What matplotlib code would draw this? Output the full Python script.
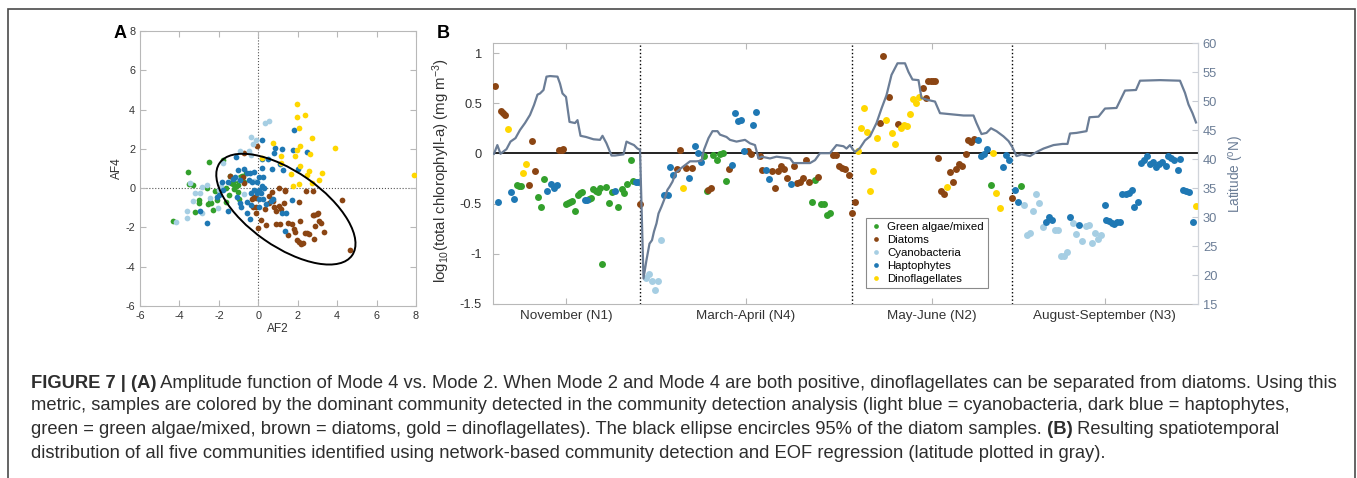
import matplotlib
matplotlib.use("Agg")
import matplotlib.pyplot as plt
from matplotlib.patches import Ellipse, Rectangle
from matplotlib.lines import Line2D

plt.rcParams['font.family'] = ['Liberation Sans', 'DejaVu Sans']
plt.rcParams['mathtext.fontset'] = 'custom'
plt.rcParams['mathtext.rm'] = 'Liberation Sans'
plt.rcParams['mathtext.it'] = 'Liberation Sans:italic'
plt.rcParams['axes.unicode_minus'] = False

# ---------------------------------------------------------------- data
community_names = ["Green algae/mixed", "Diatoms", "Cyanobacteria",
                   "Haptophytes", "Dinoflagellates"]
community_colors = ["#33a02c", "#8b4513", "#a6cee3", "#1f78b4", "#ffd700"]

# Panel A: amplitude functions (AF2, AF4) per community
af2_green = [-4.34, -3.56, -3.50, -3.30, -2.50, -3.00, -3.00, -3.20, -2.55, -2.40,
             -2.30, -2.10, -1.65, -1.80, -2.20, -1.65, -1.40, -1.30, -1.05, -1.25,
             -1.05, -1.45, -0.60, -1.00, -0.75, -0.95, -0.85, -1.12, -2.58, -1.50,
             -2.45, -1.20]
af4_green = [-1.66, 0.81, 0.20, 0.15, 1.33, -0.60, -0.75, -1.20, -0.80, -0.75,
             -1.10, -0.60, -0.70, 1.45, -0.15, 0.00, 0.25, 0.20, 0.15, -0.05,
             -0.20, 0.60, 0.75, -0.55, 0.30, 0.55, 0.60, 0.40, 0.00, -0.35,
             -0.72, 0.05]

af2_diatom = [-0.04, -0.74, -1.43, -0.79, -0.72, -0.21, -0.13, -0.25, -0.10, -0.11,
              0.14, -0.01, 0.33, 0.68, 0.55, 0.55, 0.77, 0.80, 0.89, 0.41,
              0.89, 1.11, 1.06, 1.16, 1.29, 1.06, 1.35, 1.38, 1.50, 1.53,
              1.73, 1.79, 1.85, 1.98, 2.08, 2.17, 2.27, 2.12, 2.09, 2.37,
              2.46, 2.43, 2.79, 2.85, 2.76, 2.85, 2.97, 3.05, 2.90, 3.10,
              3.20, 3.34, 4.24, 4.66, 2.55, -0.30]
af4_diatom = [2.17, 1.78, 0.64, 0.59, 0.25, -0.43, -0.49, -0.98, -0.98, -1.25,
              -1.64, -2.05, -1.08, -0.19, -0.40, -0.74, -0.65, -0.96, -1.16, -1.87,
              -1.82, -1.81, -0.92, -1.04, -0.75, 0.00, -0.08, -0.16, -1.77, -2.40,
              -1.82, -2.10, -2.25, -2.65, -2.76, -2.86, -2.79, -1.69, -0.69, -2.29,
              -2.27, -0.16, -0.16, -2.57, -1.37, -1.35, -1.30, -1.28, -1.94, -1.69,
              -1.79, -2.23, -0.60, -3.15, -2.33, -0.55]

af2_cyano = [0.36, 0.53, -0.35, -0.11, -0.28, -0.92, -0.45, -0.38, -1.77, -1.89,
             -1.97, -2.62, -2.87, -3.46, -3.23, -3.30, -2.95, -2.46, -2.04, -2.87,
             -3.64, -3.64, -4.17, -0.20, -1.15, -0.70]
af4_cyano = [3.32, 3.41, 2.59, 2.45, 2.27, 1.88, 1.89, 1.69, 1.27, 0.13,
             -0.09, 0.16, 0.08, 0.25, -0.26, -0.68, -0.26, -0.52, -1.03, -1.25,
             -1.15, -1.50, -1.74, 0.35, 0.50, -0.30]

af2_hapto = [1.83, 0.21, 0.84, 1.22, 1.75, 2.49, 0.79, -1.13, 0.19, 1.11,
             0.19, 0.72, 1.24, 2.00, -0.75, -1.05, -0.59, -0.42, -0.22, -1.17,
             0.04, 0.24, -1.27, -0.92, -1.52, -0.45, -0.31, -0.08, 0.19, 0.28,
             0.03, 0.16, -0.07, -0.37, -0.59, -0.39, 0.03, 0.25, 0.06, 0.40,
             -1.07, -0.95, -0.87, -0.55, -0.40, -1.53, -1.77, -2.08, -2.01, -1.84,
             -2.60, -2.95, 0.67, 1.20, 1.41, 1.38, 1.73, 0.77, 0.50, -0.20]
af4_hapto = [2.94, 2.44, 2.05, 2.00, 1.93, 1.83, 1.78, 1.60, 1.49, 1.23,
             1.03, 0.98, 0.94, 0.96, 0.98, 0.93, 0.76, 0.79, 0.80, 0.56,
             0.59, 0.55, 0.45, 0.42, 0.33, 0.42, 0.32, 0.32, 0.12, 0.00,
             -0.12, -0.26, -0.26, -0.26, -0.69, -0.86, -0.54, -0.56, -0.94, -0.79,
             -0.45, -0.74, -0.94, -1.26, -1.57, -1.16, -0.12, -0.43, -0.36, 0.30,
             -1.77, -1.16, -0.65, -1.25, -1.28, -2.17, -0.60, -0.57, 1.50, -0.10]

af2_dino = [1.95, 1.97, 2.36, 2.07, 2.72, 0.77, 2.14, 1.94, 3.87, 1.15,
            1.87, 2.60, 0.18, 1.17, 2.10, 2.57, 1.65, 2.46, 3.22, 3.10,
            2.74, 1.75, 2.07, 7.92]
af4_dino = [4.29, 3.61, 3.71, 3.06, 2.55, 2.30, 2.13, 1.95, 2.05, 1.66,
            1.66, 1.76, 1.51, 1.28, 1.15, 0.89, 0.71, 0.67, 0.79, 0.43,
            0.28, 0.09, 0.20, 0.66]

# 95% ellipse of the diatom samples
ellipse_center = (1.40, -1.07)
ellipse_axes = (8.2, 3.8)      # full width / height
ellipse_angle = -35.0

# Panel B: cruise sample index, log10 chlorophyll per community
section_names = ["November (N1)", "March-April (N4)", "May-June (N2)",
                 "August-September (N3)"]
section_edges = [0.0, 29.3, 71.7, 103.7, 141.0]

idx_green = [4.7, 5.1, 5.5, 9.0, 9.6, 10.2, 14.5, 14.9, 15.3, 15.8,
             16.4, 16.9, 17.4, 17.7, 19.1, 19.5, 19.9, 20.5, 20.9, 21.3,
             21.8, 22.5, 23.1, 23.7, 24.9, 25.7, 26.2, 26.8, 27.5, 28.0,
             42.2, 42.8, 44.0, 44.7, 45.3, 45.9, 46.5, 63.7, 64.3, 65.5,
             66.1, 66.7, 67.4, 99.5, 105.6]
chl_green = [-0.31, -0.32, -0.32, -0.43, -0.53, -0.25, -0.50, -0.49, -0.48, -0.47,
             -0.57, -0.41, -0.39, -0.38, -0.45, -0.44, -0.35, -0.37, -0.38, -0.34,
             -1.10, -0.33, -0.49, -0.38, -0.53, -0.35, -0.39, -0.30, -0.07, -0.27,
             -0.03, -0.37, -0.02, -0.07, -0.01, 0.00, -0.27, -0.48, -0.26, -0.50,
             -0.50, -0.61, -0.59, -0.31, -0.32]

idx_diatom = [0.33, 1.5, 1.9, 2.3, 7.1, 7.8, 8.4, 13.2, 13.7, 14.0,
              29.3, 36.7, 37.3, 38.5, 39.7, 42.9, 43.5, 47.1, 50.9, 51.5,
              53.3, 53.8, 55.8, 56.3, 57.0, 57.6, 58.2, 58.8, 60.1, 60.7,
              61.3, 61.9, 62.5, 63.1, 64.9, 68.0, 68.5, 69.2, 69.8, 70.4,
              71.1, 71.7, 72.4, 77.3, 77.9, 79.1, 80.9, 85.9, 86.5, 87.0,
              87.5, 87.9, 88.4, 88.9, 89.5, 90.1, 91.4, 92.0, 92.6, 93.2,
              93.8, 94.5, 95.0, 95.6, 96.2, 103.7]
chl_diatom = [0.67, 0.42, 0.40, 0.38, -0.31, 0.12, -0.18, 0.03, 0.03, 0.04,
              -0.50, -0.16, 0.03, -0.15, -0.15, -0.36, -0.34, -0.16, 0.02, -0.01,
              -0.03, -0.17, -0.18, -0.34, -0.18, -0.13, -0.16, -0.24, -0.13, -0.29,
              -0.28, -0.24, -0.07, -0.28, -0.23, -0.02, -0.02, -0.13, -0.15, -0.16,
              -0.21, -0.59, -0.48, 0.30, 0.97, 0.56, 0.29, 0.65, 0.55, 0.72,
              0.72, 0.72, 0.72, -0.05, -0.37, -0.40, -0.19, -0.28, -0.16, -0.11,
              -0.13, -0.01, 0.13, 0.11, 0.14, -0.44]

idx_cyano = [30.5, 31.1, 31.7, 32.3, 33.0, 33.6, 106.1, 106.8, 107.4, 107.9,
             108.6, 109.2, 109.9, 112.3, 112.9, 113.5, 114.1, 114.7, 116.0, 116.6,
             117.8, 118.5, 119.1, 119.7, 120.3, 120.9, 121.5]
chl_cyano = [-1.24, -1.20, -1.27, -1.36, -1.27, -0.86, -0.51, -0.81, -0.79, -0.57,
             -0.40, -0.49, -0.73, -0.76, -0.76, -1.02, -1.02, -0.98, -0.69, -0.80,
             -0.87, -0.72, -0.71, -0.89, -0.79, -0.85, -0.81]

idx_hapto = [1.0, 3.5, 4.1, 10.8, 11.5, 12.1, 12.8, 18.3, 18.7, 24.3,
             28.5, 28.9, 34.1, 34.9, 35.4, 36.0, 39.1, 40.3, 40.9, 41.5,
             47.7, 48.3, 49.0, 49.6, 50.2, 52.0, 52.6, 54.5, 55.1, 59.5,
             96.9, 97.5, 98.1, 98.7, 101.9, 102.5, 103.1, 104.3, 105.0, 110.5,
             111.1, 111.8, 115.3, 117.1, 122.3, 122.6, 123.2, 123.8, 124.1, 124.7,
             125.3, 125.8, 126.5, 127.1, 127.7, 128.2, 128.9, 129.5, 130.1, 130.7,
             131.3, 131.9, 132.5, 133.1, 133.7, 134.5, 135.0, 135.6, 136.2, 136.9,
             137.4, 138.0, 138.6, 139.2, 139.9]
chl_hapto = [-0.48, -0.38, -0.45, -0.37, -0.30, -0.34, -0.31, -0.46, -0.46, -0.37,
             -0.28, -0.28, -0.41, -0.41, -0.14, -0.21, -0.24, 0.07, 0.00, -0.09,
             -0.12, 0.40, 0.32, 0.33, 0.02, 0.28, 0.41, -0.17, -0.25, -0.30,
             0.13, -0.03, -0.01, 0.04, -0.14, -0.02, -0.07, -0.36, -0.48, -0.68,
             -0.63, -0.66, -0.63, -0.71, -0.51, -0.66, -0.67, -0.69, -0.70, -0.68,
             -0.68, -0.40, -0.40, -0.39, -0.36, -0.53, -0.48, -0.10, -0.07, -0.03,
             -0.11, -0.09, -0.14, -0.11, -0.09, -0.13, -0.03, -0.05, -0.07, -0.17,
             -0.06, -0.36, -0.37, -0.38, -0.68]

idx_dino = [2.9, 5.9, 6.5, 37.9, 72.9, 73.5, 74.2, 74.7, 75.4, 76.0,
            76.7, 78.5, 79.7, 80.4, 81.5, 82.1, 82.8, 83.4, 84.0, 84.6,
            85.2, 90.8, 100.0, 100.6, 101.3, 140.5]
chl_dino = [0.24, -0.20, -0.11, -0.34, 0.02, 0.25, 0.45, 0.21, -0.37, -0.18,
            0.15, 0.33, 0.20, 0.09, 0.25, 0.28, 0.27, 0.39, 0.54, 0.50,
            0.56, -0.33, 0.00, -0.39, -0.54, -0.52]

# Ship latitude along the cruise track
idx_lat = [0.2, 0.87, 1.5, 2.7, 3.5, 4.5, 5.4, 6.4, 7.4, 8.2,
           8.9, 9.4, 10.1, 10.7, 11.4, 12.9, 13.4, 13.9, 14.6, 15.3,
           16.4, 16.9, 17.5, 18.6, 20.1, 21.4, 21.9, 22.7, 23.7, 24.4,
           26.1, 26.7, 27.4, 28.2, 28.9, 29.4, 30.1, 30.7, 31.3, 31.8,
           32.2, 32.7, 33.1, 33.7, 34.2, 34.9, 35.3, 35.9, 36.6, 37.3,
           38.2, 39.4, 40.7, 41.7, 42.2, 43.1, 43.9, 44.9, 45.4, 46.7,
           47.4, 48.7, 50.4, 51.4, 52.4, 53.1, 53.7, 55.4, 56.7, 59.4,
           60.1, 63.4, 64.4, 65.4, 67.4, 68.7, 70.1, 70.7, 71.4, 72.1,
           72.4, 73.4, 74.4, 75.4, 76.7, 77.7, 78.7, 79.7, 80.9, 82.4,
           83.1, 83.9, 85.1, 85.7, 86.9, 88.4, 89.4, 91.7, 94.1, 96.1,
           96.7, 97.7, 98.7, 99.6, 100.7, 102.1, 103.1, 103.9, 104.7, 105.7,
           107.4, 108.7, 110.1, 112.1, 113.9, 114.9, 115.4, 116.7, 118.7, 119.3,
           121.1, 122.4, 124.7, 126.4, 128.6, 129.4, 133.4, 137.4, 138.4, 139.1,
           139.9, 140.6]
lat_deg = [40.9, 42.4, 40.9, 41.7, 43.0, 43.6, 45.0, 46.2, 47.6, 49.3,
           51.1, 51.3, 51.9, 54.2, 54.3, 54.2, 53.0, 51.3, 50.7, 46.4,
           46.2, 46.7, 44.0, 43.8, 43.4, 43.3, 44.0, 42.7, 40.6, 40.6,
           40.8, 43.0, 42.7, 42.4, 41.8, 41.6, 19.4, 22.6, 25.4, 26.0,
           27.5, 28.9, 30.6, 31.8, 32.9, 34.7, 35.2, 36.1, 37.7, 38.2,
           38.8, 39.6, 39.6, 39.7, 41.6, 43.6, 44.8, 44.8, 44.2, 43.8,
           43.3, 43.0, 43.3, 42.7, 42.4, 40.1, 40.4, 40.1, 40.4, 40.1,
           39.3, 39.3, 39.8, 41.0, 41.0, 42.4, 42.2, 41.8, 42.4, 41.5,
           41.2, 41.9, 43.2, 43.9, 46.2, 48.7, 51.0, 54.5, 56.5, 56.5,
           55.0, 53.7, 53.6, 50.5, 50.2, 49.9, 47.9, 47.7, 47.5, 47.5,
           46.2, 44.3, 44.5, 45.3, 44.8, 43.9, 43.1, 42.0, 40.5, 40.8,
           40.5, 41.2, 41.8, 42.4, 42.6, 42.6, 44.4, 44.5, 44.8, 47.2,
           47.3, 48.7, 48.8, 51.8, 51.9, 53.5, 53.6, 53.5, 51.4, 49.4,
           47.9, 46.3]

caption_lines = [
    [("FIGURE 7 | (A)", "bold"),
     (" Amplitude function of Mode 4 vs. Mode 2. When Mode 2 and Mode 4 are both "
      "positive, dinoflagellates can be separated from diatoms. Using this", "normal")],
    [("metric, samples are colored by the dominant community detected in the community "
      "detection analysis (light blue = cyanobacteria, dark blue = haptophytes,", "normal")],
    [("green = green algae/mixed, brown = diatoms, gold = dinoflagellates). The black "
      "ellipse encircles 95% of the diatom samples.", "normal"),
     (" (B)", "bold"),
     (" Resulting spatiotemporal", "normal")],
    [("distribution of all five communities identified using network-based community "
      "detection and EOF regression (latitude plotted in gray).", "normal")],
]

# ---------------------------------------------------------------- figure
W, H = 1357, 478
fig = plt.figure(figsize=(W / 100, H / 100), dpi=100)


def px_rect(x0, y0, x1, y1):
    return [x0 / W, 1 - y1 / H, (x1 - x0) / W, (y1 - y0) / H]


SPINE = "#b8b8b8"
TICKTXT = "#333333"
LATCOL = "#6b7d96"


def matlab_style(ax, labelsize):
    for s in ax.spines.values():
        s.set_color(SPINE)
        s.set_linewidth(0.8)
    ax.tick_params(direction="in", length=4, width=0.8, color=SPINE,
                   labelcolor=TICKTXT, labelsize=labelsize)


# outer figure frame
fig.add_artist(Rectangle((7.5 / W, -0.05), (1355 - 7.5) / W, 1.05 - 9 / H,
                         transform=fig.transFigure, fill=False,
                         edgecolor="#4a4a4a", linewidth=1.2))

# ---------------- panel A
axA = fig.add_axes(px_rect(140, 31, 416, 306))
matlab_style(axA, 7.8)
axA.tick_params(top=True, right=True, pad=3.5)
axA.set_xlim(-6, 8)
axA.set_ylim(-6, 8)
axA.set_xticks(range(-6, 9, 2))
axA.set_yticks(range(-6, 9, 2))
axA.axhline(0, color="#555555", linestyle=":", linewidth=0.8, zorder=1)
axA.axvline(0, color="#555555", linestyle=":", linewidth=0.8, zorder=1)

panelA_sets = [(af2_green, af4_green), (af2_diatom, af4_diatom),
               (af2_cyano, af4_cyano), (af2_hapto, af4_hapto),
               (af2_dino, af4_dino)]
for (xs, ys), col in zip(panelA_sets, community_colors):
    axA.scatter(xs, ys, s=17, color=col, linewidths=0, zorder=3)

axA.add_patch(Ellipse(ellipse_center, ellipse_axes[0], ellipse_axes[1],
                      angle=ellipse_angle, fill=False, edgecolor="black",
                      linewidth=1.4, zorder=4))
axA.set_xlabel("AF2", fontsize=8.6, color=TICKTXT)
axA.set_ylabel("AF4", fontsize=8.6, color=TICKTXT)
axA.xaxis.set_label_coords(0.5, -0.062)
axA.yaxis.set_label_coords(-0.062, 0.5)
fig.text(120 / W, 1 - 33 / H, "A", fontsize=13, fontweight="bold",
         ha="center", va="center")

# ---------------- panel B
axB = fig.add_axes(px_rect(493, 43, 1198, 304))
matlab_style(axB, 9.3)
axB.tick_params(top=True, right=False)
axB.tick_params(axis="y", pad=8)
axB.tick_params(axis="x", pad=4.5, labelsize=9.7)
axB.set_xlim(section_edges[0], section_edges[-1])
axB.set_ylim(-1.5, 1.1)
axB.set_yticks([-1.5, -1, -0.5, 0, 0.5, 1])
axB.set_yticklabels(["-1.5", "-1", "-0.5", "0", "0.5", "1"])
centers = [(a + b) / 2 for a, b in zip(section_edges[:-1], section_edges[1:])]
axB.set_xticks(centers)
axB.set_xticklabels(section_names)
for edge in section_edges[1:-1]:
    axB.axvline(edge, color="black", linestyle=":", linewidth=1.0, zorder=2)
axB.axhline(0, color="#222222", linewidth=1.4, zorder=2)

panelB_sets = [(idx_green, chl_green), (idx_diatom, chl_diatom),
               (idx_cyano, chl_cyano), (idx_hapto, chl_hapto),
               (idx_dino, chl_dino)]
for (xs, ys), col in zip(panelB_sets, community_colors):
    axB.scatter(xs, ys, s=25, color=col, linewidths=0, zorder=3)

axB.set_ylabel(r"log$_{\mathregular{10}}$(total chlorophyll-a) (mg m$^{\mathregular{-3}}$)",
               fontsize=10.8, color=TICKTXT)
axB.yaxis.set_label_coords(-0.058, 0.51)

handles = [Line2D([], [], linestyle="none", marker="o", markersize=3.4,
                  markerfacecolor=c, markeredgewidth=0) for c in community_colors]
leg = axB.legend(handles, community_names, loc="lower left",
                 bbox_to_anchor=(0.529, 0.063), fontsize=8.2, frameon=True,
                 fancybox=False, framealpha=1, edgecolor="#8a8a8a",
                 handlelength=1.0, handletextpad=0.5, borderpad=0.35,
                 labelspacing=0.25, borderaxespad=0)
leg.get_frame().set_linewidth(0.8)
leg.set_zorder(6)

axR = axB.twinx()
axR.set_ylim(15, 60)
axR.set_yticks(range(15, 61, 5))
for s in axR.spines.values():
    s.set_visible(False)
axR.spines["right"].set_visible(True)
axR.spines["right"].set_color("#d0d4da")
axR.spines["right"].set_linewidth(0.8)
axR.tick_params(direction="in", length=4, width=0.8, color="#c8ccd4",
                labelcolor=LATCOL, labelsize=9.3, pad=3.5)
axR.plot(idx_lat, lat_deg, color=LATCOL, linewidth=1.6, zorder=5)
axR.set_ylabel(r"Latitude ($^{\mathregular{o}}$N)", fontsize=9.8, color=LATCOL)
axR.yaxis.set_label_coords(1.041, 0.5)
fig.text(443 / W, 1 - 33 / H, "B", fontsize=13, fontweight="bold",
         ha="center", va="center")

# ---------------- caption
renderer = fig.canvas.get_renderer()
caption_y = [383, 406, 430, 453]
for y_px, pieces in zip(caption_y, caption_lines):
    x_px = 31
    for text, weight in pieces:
        t = fig.text(x_px / W, 1 - y_px / H, text, fontsize=13.2,
                     fontweight=weight, ha="left", va="center", color="#2e2e2e")
        x_px += t.get_window_extent(renderer).width

fig.savefig("out.png", dpi=100)
